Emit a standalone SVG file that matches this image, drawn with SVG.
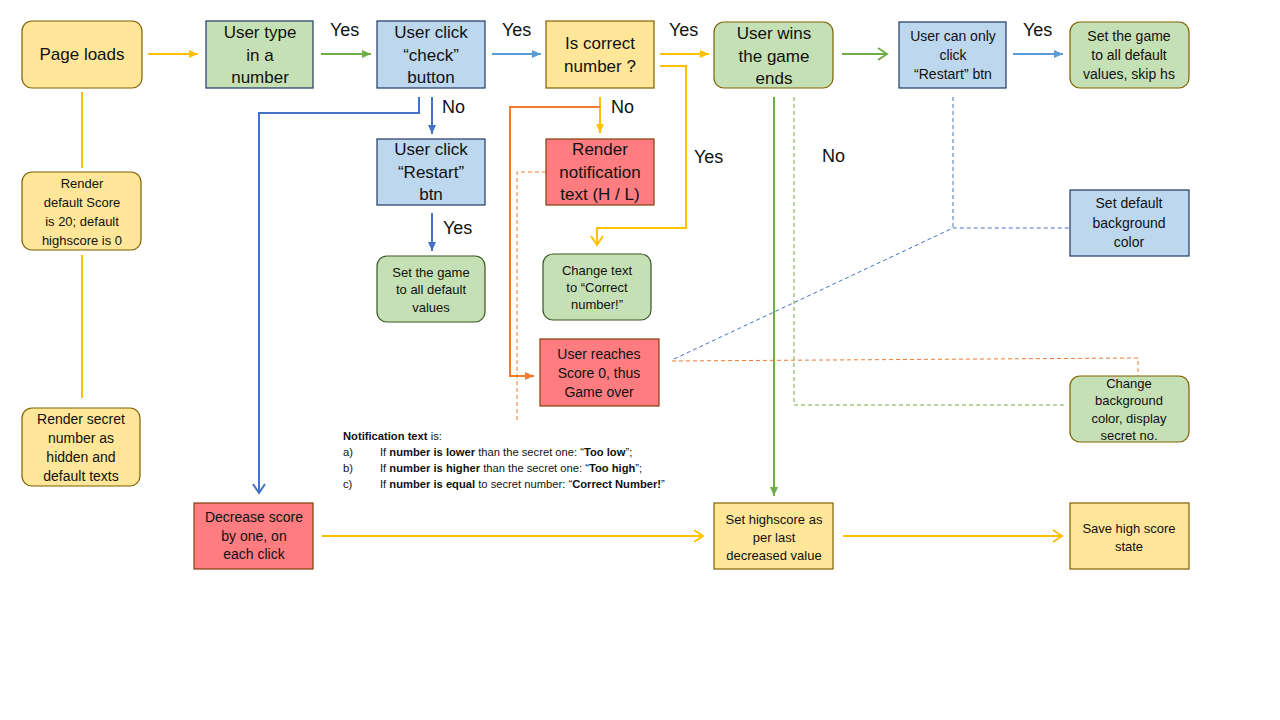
<svg xmlns="http://www.w3.org/2000/svg" width="1280" height="720" viewBox="0 0 1280 720">
<style>
text{font-family:"Liberation Sans",Arial,sans-serif;fill:#111;text-anchor:middle}
.t17{font-size:17px}.t14{font-size:14px}.t13{font-size:13px}
.lbl{font-size:18px;text-anchor:start}
.note{font-size:11.2px;text-anchor:start}
.b{font-weight:bold}
.yel{fill:#FFE699;stroke:#7F6000;stroke-width:1.2}
.grn{fill:#C5E0B4;stroke:#1F3864;stroke-width:1.2}
.grnb{fill:#C5E0B4;stroke:#7F6000;stroke-width:1.2}
.grnd{fill:#C5E0B4;stroke:#385723;stroke-width:1.2}
.blu{fill:#BDD7EE;stroke:#1F3864;stroke-width:1.2}
.red{fill:#FF7C80;stroke:#843C0C;stroke-width:1.2}
.c{fill:none;stroke-width:2}
.cy{stroke:#FFC000}.cg{stroke:#70AD47}.cb{stroke:#5B9BD5}.cd{stroke:#4472C4}.co{stroke:#ED7D31}
.d{fill:none;stroke-width:1;stroke-dasharray:4 3}
</style>
<defs>
<marker id="ty" markerUnits="userSpaceOnUse" markerWidth="10" markerHeight="10" refX="9" refY="5" orient="auto"><path d="M0,1 L9,5 L0,9 z" fill="#FFC000"/></marker>
<marker id="tg" markerUnits="userSpaceOnUse" markerWidth="10" markerHeight="10" refX="9" refY="5" orient="auto"><path d="M0,1 L9,5 L0,9 z" fill="#70AD47"/></marker>
<marker id="tb" markerUnits="userSpaceOnUse" markerWidth="10" markerHeight="10" refX="9" refY="5" orient="auto"><path d="M0,1 L9,5 L0,9 z" fill="#5B9BD5"/></marker>
<marker id="td" markerUnits="userSpaceOnUse" markerWidth="10" markerHeight="10" refX="9" refY="5" orient="auto"><path d="M0,1 L9,5 L0,9 z" fill="#4472C4"/></marker>
<marker id="to" markerUnits="userSpaceOnUse" markerWidth="10" markerHeight="10" refX="9" refY="5" orient="auto"><path d="M0,1 L9,5 L0,9 z" fill="#ED7D31"/></marker>
<marker id="vy" markerUnits="userSpaceOnUse" markerWidth="12" markerHeight="14" refX="10" refY="7" orient="auto"><path d="M1,1 L10,7 L1,13" fill="none" stroke="#FFC000" stroke-width="2"/></marker>
<marker id="vg" markerUnits="userSpaceOnUse" markerWidth="12" markerHeight="14" refX="10" refY="7" orient="auto"><path d="M1,1 L10,7 L1,13" fill="none" stroke="#70AD47" stroke-width="2"/></marker>
<marker id="vd" markerUnits="userSpaceOnUse" markerWidth="12" markerHeight="14" refX="10" refY="7" orient="auto"><path d="M1,1 L10,7 L1,13" fill="none" stroke="#4472C4" stroke-width="2"/></marker>
</defs>
<rect width="1280" height="720" fill="#fff"/>

<g id="connectors">
<line class="c cy" x1="148" y1="54" x2="198" y2="54" marker-end="url(#ty)"/>
<line class="c cg" x1="321" y1="54" x2="371" y2="54" marker-end="url(#tg)"/>
<line class="c cb" x1="492" y1="54" x2="541" y2="54" marker-end="url(#tb)"/>
<line class="c cy" x1="660" y1="54" x2="709" y2="54" marker-end="url(#ty)"/>
<line class="c cg" x1="842" y1="54" x2="887" y2="54" marker-end="url(#vg)"/>
<line class="c cb" x1="1013" y1="54" x2="1063" y2="54" marker-end="url(#tb)"/>
<polyline class="c cy" points="660,66 686,66 686,228 597,228 597,245" marker-end="url(#vy)"/>
<line class="c cy" x1="600" y1="97" x2="600" y2="133" marker-end="url(#ty)"/>
<polyline class="c co" points="600,107 510,107 510,376 534,376" marker-end="url(#to)"/>
<line class="c cd" x1="432" y1="97" x2="432" y2="134" marker-end="url(#td)"/>
<polyline class="c cd" points="419,97 419,113 259,113 259,493" marker-end="url(#vd)"/>
<line class="c cd" x1="432" y1="213" x2="432" y2="251" marker-end="url(#td)"/>
<line class="c cy" x1="82" y1="92" x2="82" y2="168"/>
<line class="c cy" x1="82" y1="255" x2="82" y2="398"/>
<line class="c cg" x1="774" y1="97" x2="774" y2="496" marker-end="url(#tg)"/>
<line class="c cy" x1="322" y1="536" x2="703" y2="536" marker-end="url(#vy)"/>
<line class="c cy" x1="843" y1="536" x2="1062" y2="536" marker-end="url(#vy)"/>
<polyline class="d" stroke="#ED7D31" points="546,172 517,172 517,421"/>
<polyline class="d" stroke="#ED7D31" points="672,361 1138,358 1138,376"/>
<polyline class="d" stroke="#4472C4" points="674,359 953,228 1069,228"/>
<line class="d" stroke="#4472C4" x1="953" y1="97" x2="953" y2="228"/>
<polyline class="d" stroke="#70AD47" points="794,97 794,405 1064,405"/>
</g>

<g id="labels">
<text class="lbl" x="330" y="36">Yes</text>
<text class="lbl" x="502" y="36">Yes</text>
<text class="lbl" x="669" y="36">Yes</text>
<text class="lbl" x="1023" y="36">Yes</text>
<text class="lbl" x="442" y="113">No</text>
<text class="lbl" x="611" y="113">No</text>
<text class="lbl" x="694" y="163">Yes</text>
<text class="lbl" x="822" y="162">No</text>
<text class="lbl" x="443" y="234">Yes</text>
</g>

<g id="page-loads"><rect class="yel" x="22" y="21" width="120" height="67" rx="10"/><text class="t17" x="82" y="60">Page loads</text></g>
<g id="user-type"><rect class="grn" x="206" y="21" width="107" height="67"/><text class="t17" x="260" y="38">User type</text><text class="t17" x="260" y="61">in a</text><text class="t17" x="260" y="83">number</text></g>
<g id="user-click-check"><rect class="blu" x="377" y="21" width="108" height="67"/><text class="t17" x="431" y="38">User click</text><text class="t17" x="431" y="61">“check”</text><text class="t17" x="431" y="83">button</text></g>
<g id="is-correct"><rect class="yel" x="546" y="21" width="108" height="67"/><text class="t17" x="600" y="49">Is correct</text><text class="t17" x="600" y="72">number ?</text></g>
<g id="user-wins"><rect class="grnb" x="714" y="22" width="119" height="66" rx="10"/><text class="t17" x="774" y="39">User wins</text><text class="t17" x="774" y="62">the game</text><text class="t17" x="774" y="84">ends</text></g>
<g id="user-can-only"><rect class="blu" x="899" y="22" width="107" height="66"/><text class="t14" x="953" y="41">User can only</text><text class="t14" x="953" y="60">click</text><text class="t14" x="953" y="79">“Restart” btn</text></g>
<g id="set-game-skip"><rect class="grnb" x="1070" y="22" width="119" height="66" rx="10"/><text class="t14" x="1129" y="41">Set the game</text><text class="t14" x="1129" y="60">to all default</text><text class="t14" x="1129" y="79">values, skip hs</text></g>
<g id="user-click-restart"><rect class="blu" x="377" y="139" width="108" height="66"/><text class="t17" x="431" y="155">User click</text><text class="t17" x="431" y="178">“Restart”</text><text class="t17" x="431" y="200">btn</text></g>
<g id="render-notification"><rect class="red" x="546" y="139" width="108" height="66"/><text class="t17" x="600" y="155">Render</text><text class="t17" x="600" y="178">notification</text><text class="t17" x="600" y="200">text (H / L)</text></g>
<g id="set-game-default"><rect class="grnd" x="377" y="256" width="108" height="66" rx="10"/><text class="t13" x="431" y="277">Set the game</text><text class="t13" x="431" y="294">to all default</text><text class="t13" x="431" y="312">values</text></g>
<g id="change-text"><rect class="grnd" x="543" y="254" width="108" height="66" rx="10"/><text class="t13" x="597" y="275">Change text</text><text class="t13" x="597" y="292">to “Correct</text><text class="t13" x="597" y="309">number!”</text></g>
<g id="user-reaches-zero"><rect class="red" x="540" y="339" width="119" height="67"/><text class="t14" x="599" y="359">User reaches</text><text class="t14" x="599" y="378">Score 0, thus</text><text class="t14" x="599" y="397">Game over</text></g>
<g id="render-default"><rect class="yel" x="22" y="172" width="119" height="78" rx="10"/><text class="t13" x="82" y="188">Render</text><text class="t13" x="82" y="207">default Score</text><text class="t13" x="82" y="226">is 20; default</text><text class="t13" x="82" y="245">highscore is 0</text></g>
<g id="render-secret"><rect class="yel" x="22" y="408" width="118" height="78" rx="10"/><text class="t14" x="81" y="424">Render secret</text><text class="t14" x="81" y="443">number  as</text><text class="t14" x="81" y="462">hidden  and</text><text class="t14" x="81" y="481">default texts</text></g>
<g id="decrease-score"><rect class="red" x="194" y="503" width="119" height="66"/><text class="t14" x="254" y="522">Decrease score</text><text class="t14" x="254" y="541">by one,  on</text><text class="t14" x="254" y="559">each click</text></g>
<g id="set-highscore"><rect class="yel" x="714" y="503" width="119" height="66"/><text class="t13" x="774" y="524">Set highscore as</text><text class="t13" x="774" y="542">per last</text><text class="t13" x="774" y="560">decreased value</text></g>
<g id="save-high-score"><rect class="yel" x="1070" y="503" width="119" height="66"/><text class="t13" x="1129" y="533">Save high score</text><text class="t13" x="1129" y="551">state</text></g>
<g id="set-default-bg"><rect class="blu" x="1070" y="190" width="119" height="66"/><text class="t14" x="1129" y="208">Set default</text><text class="t14" x="1129" y="228">background</text><text class="t14" x="1129" y="247">color</text></g>
<g id="change-bg"><rect class="grnb" x="1070" y="376" width="119" height="66" rx="10"/><text class="t13" x="1129" y="388">Change</text><text class="t13" x="1129" y="405">background</text><text class="t13" x="1129" y="423">color, display</text><text class="t13" x="1129" y="440">secret no.</text></g>

<g id="notification-note">
<text class="note" x="343" y="440"><tspan class="b">Notification  text</tspan> is:</text>
<text class="note" x="343" y="456">a)</text>
<text class="note" x="380" y="456">If <tspan class="b">number is lower</tspan> than the secret one: “<tspan class="b">Too low</tspan>”;</text>
<text class="note" x="343" y="472">b)</text>
<text class="note" x="380" y="472">If <tspan class="b">number is higher</tspan> than the secret one: “<tspan class="b">Too  high</tspan>”;</text>
<text class="note" x="343" y="488">c)</text>
<text class="note" x="380" y="488">If <tspan class="b">number is equal</tspan> to secret number:  “<tspan class="b">Correct Number!</tspan>”</text>
</g>
</svg>
